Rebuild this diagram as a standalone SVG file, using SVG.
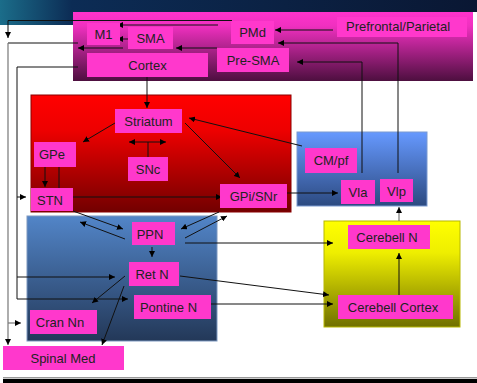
<svg xmlns="http://www.w3.org/2000/svg" width="477" height="383" viewBox="0 0 477 383">
<defs>
<linearGradient id="gTop" x1="0" y1="0" x2="1" y2="0"><stop offset="0" stop-color="#1b6d8a"/><stop offset="0.15" stop-color="#0c2c55"/><stop offset="1" stop-color="#0a1733"/></linearGradient>
<linearGradient id="gCortex" x1="0" y1="0" x2="0" y2="1"><stop offset="0" stop-color="#ff33cc"/><stop offset="0.2" stop-color="#f030c0"/><stop offset="1" stop-color="#4d0f3f"/></linearGradient>
<linearGradient id="gRed" x1="0" y1="0" x2="0" y2="1"><stop offset="0" stop-color="#ff0000"/><stop offset="0.3" stop-color="#ee0000"/><stop offset="1" stop-color="#720000"/></linearGradient>
<linearGradient id="gThal" x1="0" y1="0" x2="0" y2="1"><stop offset="0" stop-color="#6699ff"/><stop offset="1" stop-color="#2c4a80"/></linearGradient>
<linearGradient id="gBs" x1="0" y1="0" x2="0" y2="1"><stop offset="0" stop-color="#5285c8"/><stop offset="1" stop-color="#233858"/></linearGradient>
<linearGradient id="gCb" x1="0" y1="0" x2="0" y2="1"><stop offset="0" stop-color="#ffff00"/><stop offset="0.3" stop-color="#eeee00"/><stop offset="1" stop-color="#707000"/></linearGradient>
<marker id="ar" viewBox="0 0 6 6" refX="6" refY="3" markerWidth="6" markerHeight="6" markerUnits="userSpaceOnUse" orient="auto"><path d="M0,0 L6,3 L0,6 z" fill="#000"/></marker>
<marker id="arS" viewBox="0 0 6 6" refX="0" refY="3" markerWidth="6" markerHeight="6" markerUnits="userSpaceOnUse" orient="auto"><path d="M6,0 L0,3 L6,6 z" fill="#000"/></marker>
</defs>
<style>
.n{fill:#ff38cc}
.t{font-family:"Liberation Sans",Arial,sans-serif;font-size:13px;fill:#222;text-anchor:middle}
.c{fill:none;stroke:#111;stroke-width:1}
.g{fill:none;stroke:#777;stroke-width:1.2}
.a{marker-end:url(#ar)}
</style>
<rect width="477" height="383" fill="#fff"/>
<path d="M0,0 H477 V12 H73 V25 H0 Z" fill="url(#gTop)"/>
<rect x="3" y="377" width="474" height="1.5" fill="#999"/>
<rect x="3" y="379" width="474" height="4" fill="#000"/>

<g id="cortex-region"><rect x="73" y="12" width="400" height="69" fill="url(#gCortex)"/></g>
<g id="basal-ganglia-region"><rect x="31" y="95" width="260" height="117" fill="url(#gRed)" stroke="#8a0000" stroke-width="1"/></g>
<g id="thalamus-region"><rect x="297" y="132" width="130" height="74" fill="url(#gThal)" stroke="#7a9ad0" stroke-width="1"/></g>
<g id="brainstem-region"><rect x="27" y="216" width="190" height="125" fill="url(#gBs)" stroke="#7c98c0" stroke-width="1"/></g>
<g id="cerebellum-region"><rect x="324" y="221" width="136" height="106" fill="url(#gCb)" stroke="#b8b800" stroke-width="1"/></g>

<g id="connectors">
<path class="c a" d="M232,20.5 H8 V38"/>
<path class="c" d="M78,43 H8"/>
<path class="g a" d="M8,43 V345"/>
<path class="g a" d="M8,323 H21"/>
<path class="c a" d="M78,67 H17 V299 H128"/>
<path class="c a" d="M17,277 H115"/>
<path class="c a" d="M17,197 H26"/>
<path class="c a" d="M218,25 H117"/>
<path class="c a" d="M128,39 H117"/>
<path class="c a" d="M123,48 H78"/>
<path class="c a" d="M217,48 H176"/>
<path class="c a" d="M333,30 H275"/>
<path class="c a" d="M398,173 V43 H278"/>
<path class="c a" d="M362,173 V62 H297"/>
<path class="c a" d="M147,77 V108"/>
<path class="c a" d="M115,123 L83,142"/>
<path class="c a" d="M185,123 L240,178"/>
<path class="c a" d="M302,146 L189,118"/>
<path class="c" d="M148,157 V142" marker-start="none"/>
<path class="c a" d="M148,142 H166"/>
<path class="c a" d="M148,142 H129"/>
<path class="c a" d="M45,158 V187"/>
<path class="c a" d="M59,188 V153"/>
<path class="c a" d="M73,197 H222"/>
<path class="c a" d="M287,193 H338"/>
<path class="g a" d="M399,221 V207"/>
<path class="c a" d="M73,211 L123,229"/>
<path class="c a" d="M125,239 L80,222"/>
<path class="c a" d="M219,212 L181,229"/>
<path class="c a" d="M185,238 L227,216"/>
<path class="c a" d="M152,247 V257"/>
<path class="c a" d="M185,243 H333"/>
<path class="c a" d="M180,276 L329,295"/>
<path class="c a" d="M211,304 H333"/>
<path class="c a" d="M125,276 L92,303"/>
<path class="c a" d="M124,286 L102,345"/>
<path class="c a" d="M399,295 V253"/>
</g>

<g id="M1"><rect class="n" x="87" y="23" width="33" height="22"/><text class="t" x="103.5" y="38.5">M1</text></g>
<g id="SMA"><rect class="n" x="128" y="27" width="45" height="22"/><text class="t" x="150.5" y="42.5">SMA</text></g>
<g id="Cortex"><rect class="n" x="87" y="53" width="121" height="24"/><text class="t" x="147.5" y="69.5">Cortex</text></g>
<g id="PMd"><rect class="n" x="231" y="21" width="43" height="23"/><text class="t" x="252.5" y="37">PMd</text></g>
<g id="Prefrontal-Parietal"><rect class="n" x="337" y="17" width="130" height="20"/><text class="t" x="398" y="31">Prefrontal/Parietal</text></g>
<g id="Pre-SMA"><rect class="n" x="217" y="48" width="72" height="24"/><text class="t" x="253" y="64.5">Pre-SMA</text></g>
<g id="Striatum"><rect class="n" x="115" y="109" width="67" height="24"/><text class="t" x="148.5" y="125.5">Striatum</text></g>
<g id="GPe"><rect class="n" x="34" y="142" width="42" height="25"/><text class="t" x="52" y="159">GPe</text></g>
<g id="SNc"><rect class="n" x="128" y="157" width="40" height="24"/><text class="t" x="148" y="173.5">SNc</text></g>
<g id="STN"><rect class="n" x="31" y="188" width="42" height="23"/><text class="t" x="50" y="204.5">STN</text></g>
<g id="GPi-SNr"><rect class="n" x="220" y="184" width="67" height="24"/><text class="t" x="253.5" y="200.5">GPi/SNr</text></g>
<g id="CM-pf"><rect class="n" x="305" y="148" width="52" height="25"/><text class="t" x="331" y="165">CM/pf</text></g>
<g id="Vla"><rect class="n" x="341" y="180" width="34" height="24"/><text class="t" x="358" y="196.5">Vla</text></g>
<g id="Vlp"><rect class="n" x="380" y="179" width="33" height="23"/><text class="t" x="396.5" y="195.5">Vlp</text></g>
<g id="PPN"><rect class="n" x="132" y="222" width="43" height="23"/><text class="t" x="150" y="238.5">PPN</text></g>
<g id="RetN"><rect class="n" x="129" y="262" width="50" height="24"/><text class="t" x="152" y="278.5">Ret N</text></g>
<g id="PontineN"><rect class="n" x="134" y="295" width="77" height="24"/><text class="t" x="168.5" y="311.5">Pontine N</text></g>
<g id="CranNn"><rect class="n" x="30" y="310" width="67" height="24"/><text class="t" x="60" y="326.5">Cran Nn</text></g>
<g id="SpinalMed"><rect class="n" x="3" y="346" width="121" height="24"/><text class="t" x="63" y="362.5">Spinal Med</text></g>
<g id="CerebellN"><rect class="n" x="348" y="225" width="82" height="24"/><text class="t" x="387" y="241.5">Cerebell N</text></g>
<g id="CerebellCortex"><rect class="n" x="338" y="295" width="115" height="24"/><text class="t" x="393" y="311.5">Cerebell Cortex</text></g>
</svg>
